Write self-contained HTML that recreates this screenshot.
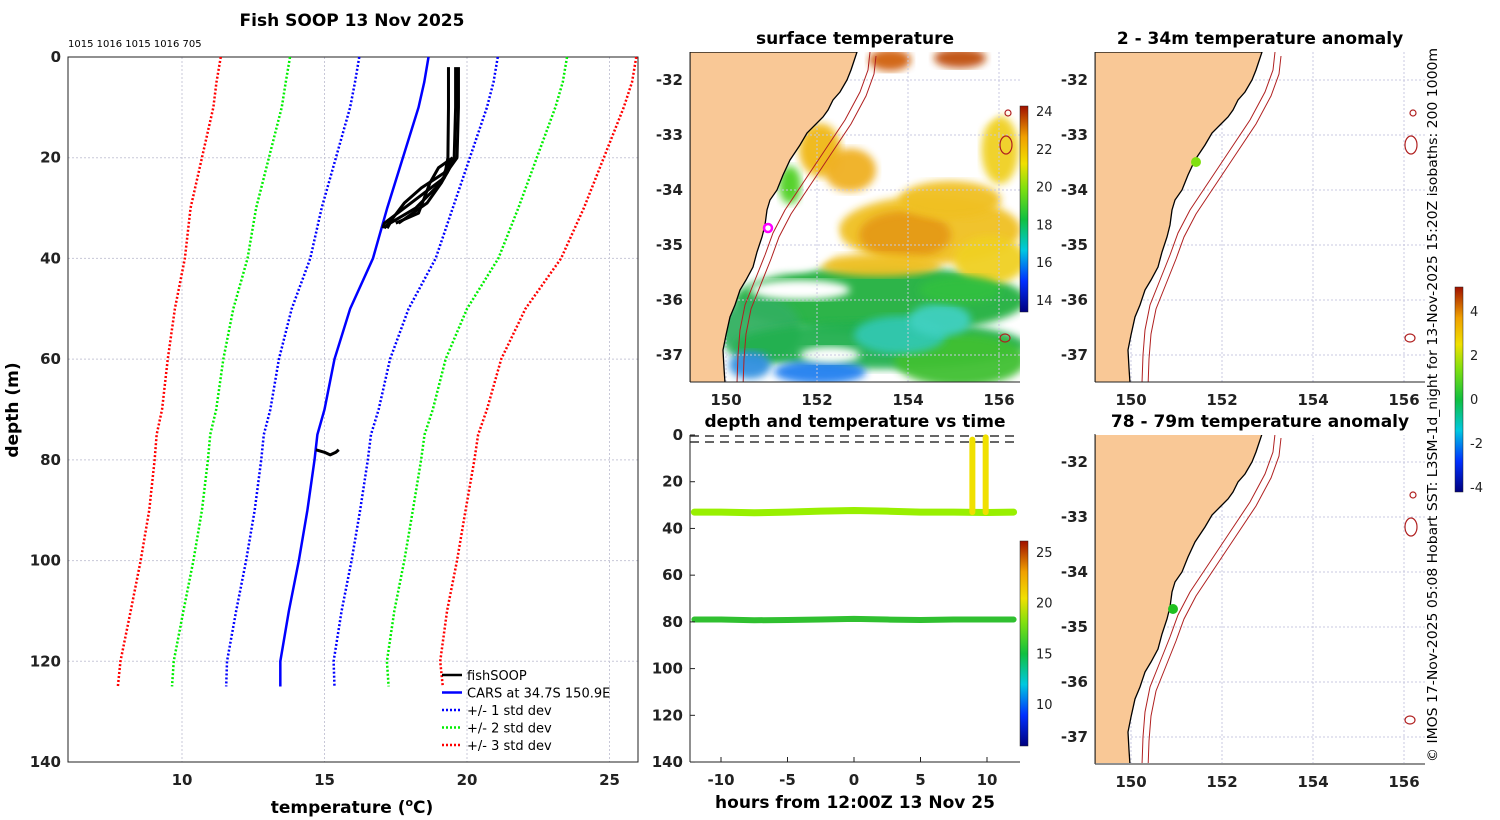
<!DOCTYPE html>
<html><head><meta charset="utf-8"><style>
body{margin:0;background:#fff;}
svg{display:block;font-family:"DejaVu Sans","Liberation Sans",sans-serif;}
.t{font-weight:bold;font-size:15px;fill:#222;}
.ti{font-weight:bold;font-size:17px;fill:#000;}
</style></head><body>
<svg id="fig" width="1500" height="820" viewBox="0 0 1500 820" xmlns="http://www.w3.org/2000/svg">
<defs>
<linearGradient id="jet" x1="0" y1="1" x2="0" y2="0">
<stop offset="0" stop-color="#00007f"/><stop offset="0.15" stop-color="#0030ff"/><stop offset="0.3" stop-color="#00c8e0"/><stop offset="0.45" stop-color="#10c040"/><stop offset="0.6" stop-color="#80e010"/><stop offset="0.72" stop-color="#f0e000"/><stop offset="0.85" stop-color="#f0a000"/><stop offset="1" stop-color="#a01000"/>
</linearGradient>
<filter id="bl"><feGaussianBlur stdDeviation="4"/></filter>
<clipPath id="cm"><rect x="690" y="52" width="330" height="330"/></clipPath>
<clipPath id="cr1"><rect x="1095" y="52" width="330" height="330"/></clipPath>
<clipPath id="cr2"><rect x="1095" y="435" width="330" height="328"/></clipPath>
</defs>
<g id="left"></g>
<g id="mid"></g>
<g id="ts"></g>
<g id="r1"></g>
<g id="r2"></g>
</svg>
<script>
// ---- profile data ----
const depths=[0,5,10,20,30,40,50,60,70,75,80,90,100,110,120,125];
const caresMean=[18.65,18.5,18.3,17.75,17.2,16.7,15.9,15.35,15.0,14.75,14.65,14.4,14.1,13.75,13.45,13.45];
const caresSd=[2.43,2.43,2.4,2.35,2.3,2.2,2.05,1.95,1.9,1.88,1.87,1.85,1.85,1.85,1.87,1.9];
const fishDepths=[[2,10,20,24,27,30,33,34],[2,10,20,23,26,30,33,34],[2,10,20,22,25,29,33],[20,23,26,29,32,34],[20,22,25,28,31,33],[78,78.5,79,78.5,78]];
const fishTemps=[[19.35,19.35,19.33,19.2,18.5,17.8,17.1,17.05],[19.6,19.6,19.55,19.3,18.9,18.2,17.3,17.2],[19.7,19.7,19.65,19.4,19.1,18.6,17.6],[19.5,19.2,18.4,17.8,17.4,17.1],[19.5,19.0,18.7,18.5,18.3,17.5],[14.7,15.0,15.2,15.4,15.5]];
const xTicks=[10,15,20,25];
const yTicks=[0,20,40,60,80,100,120,140];
// ---- time series data ----
const tsHours1=[-12,-10,-7.5,-5,-2.5,0,2.5,5,7.5,10,12];
const tsDepth1=[33,33,33.3,33,32.6,32.3,32.6,33,33,33.2,33];
const tsHours2=[-12,-10,-7.5,-5,-2.5,0,2.5,5,7.5,10,12];
const tsDepth2=[79,79,79.3,79.2,79,78.7,79,79.2,79,79,79];
const tsTemp1=19;const tsTemp2=16.5;
const spikeHours=[8.9,9.9];
const spikeTop=[2,1];const spikeBottom=[33,33];
const hTicks=[-10,-5,0,5,10];
const dTicks=[0,20,40,60,80,100,120,140];
const NS='http://www.w3.org/2000/svg';
function el(p,t,a,txt){const e=document.createElementNS(NS,t);for(const k in a)e.setAttribute(k,a[k]);if(txt!==undefined)e.textContent=txt;p.appendChild(e);return e;}
// ---------- LEFT ----------
const L=document.getElementById('left');
const X=t=>182+(t-10)*28.5, Y=d=>57+d*705/140;
xTicks.forEach(t=>{const g=el(L,'line',{x1:X(t),x2:X(t),y1:57,y2:762,stroke:'#c8c8d8','stroke-dasharray':'2,2'});
 const tx=el(L,'text',{x:X(t),y:785,'text-anchor':'middle',class:'t'},t);});
yTicks.forEach(d=>{const g=el(L,'line',{x1:68,x2:638,y1:Y(d),y2:Y(d),stroke:'#c8c8d8','stroke-dasharray':'2,2'});
 const tx=el(L,'text',{x:61,y:Y(d)+5,'text-anchor':'end',class:'t'},d);});
el(L,'rect',{x:68,y:57,width:570,height:705,fill:'none',stroke:'#222'});
const cols=['#0000ff','#00ee00','#ff0000'];
[1,2,3].forEach(k=>{[-1,1].forEach(s=>{const pts=depths.map((d,i)=>X(caresMean[i]+s*k*caresSd[i])+','+Y(d)).join(' ');
 const p=el(L,'polyline',{points:pts,fill:'none',stroke:cols[k-1],'stroke-width':2.5,'stroke-dasharray':'2,2'});});});
const mp=el(L,'polyline',{points:depths.map((d,i)=>X(caresMean[i])+','+Y(d)).join(' '),fill:'none',stroke:'#0000ff','stroke-width':2.5});

fishDepths.forEach((ds,j)=>{const p=el(L,'polyline',{points:ds.map((d,i)=>X(fishTemps[j][i])+','+Y(d)).join(' '),fill:'none',stroke:'#000','stroke-width':3,'stroke-linejoin':'round'});
 });
let e;
e=el(L,'text',{x:352,y:26,'text-anchor':'middle',class:'ti'},'Fish SOOP 13 Nov 2025');
e=el(L,'text',{x:68,y:47,'font-size':'10px',fill:'#000'},'1015 1016 1015 1016 705');
e=el(L,'text',{x:18,y:410,'text-anchor':'middle',class:'ti',transform:'rotate(-90 18 410)'},'depth (m)');
e=el(L,'text',{x:352,y:813,'text-anchor':'middle',class:'ti'});e.innerHTML='temperature (<tspan dy="-7" font-size="11">o</tspan><tspan dy="7">C)</tspan>';
const leg=[['fishSOOP','#000',''],['CARS at 34.7S 150.9E','#0000ff',''],['+/- 1 std dev','#0000ff','2,2'],['+/- 2 std dev','#00ee00','2,2'],['+/- 3 std dev','#ff0000','2,2']];
leg.forEach((l,i)=>{const y=675+i*17.5;el(L,'line',{x1:442,x2:462,y1:y,y2:y,stroke:l[1],'stroke-width':2.5,'stroke-dasharray':l[2]||'none'});
 const t=el(L,'text',{x:467,y:y+5,'font-size':'13px',fill:'#000'},l[0]);});
// ---------- MAPS ----------
const coast=[[857,52],[851,70],[847,80],[840,92],[833,100],[828,110],[823,117],[815,125],[807,133],[800,145],[790,160],[783,175],[777,190],[770,200],[767,210],[765,225],[762,237],[757,252],[753,267],[746,280],[740,290],[735,305],[730,317],[726,335],[723,350],[724,368],[725,383]];
const iso1=[[870,52],[868,70],[860,92],[845,120],[825,150],[805,180],[785,210],[773,233],[765,255],[755,280],[745,305],[740,330],[738,355],[737,383]];
function mapPanel(G,ox,oy,clip,anom){
 const g=el(G,'g',{'clip-path':'url(#'+clip+')'});
 el(g,'rect',{x:690+ox,y:52+oy,width:330,height:330,fill:'#fff'});
 if(!anom){
  const blobs=[
   [880,300,280,60,'#20b040'],[760,330,70,60,'#30b060'],[880,345,280,40,'#20b050'],[960,360,120,45,'#40c030'],
   [900,335,80,30,'#30c8b0'],[940,320,50,25,'#40d0c0'],[820,372,80,16,'#2080f0'],[750,365,30,20,'#3090e0'],
   [930,230,170,60,'#f0c020'],[905,235,80,40,'#e59a18'],[950,200,90,30,'#f0c020'],[990,260,60,40,'#f0d020'],
   [880,265,110,15,'#f0c020'],[820,150,30,45,'#f0b818'],[790,185,10,30,'#50d020'],[850,170,40,35,'#f0b020'],
   [890,60,30,14,'#d06010'],[960,58,40,12,'#c05010'],[1000,150,25,60,'#f0d020'],[960,290,70,20,'#30c040']];
  blobs.forEach(b=>{el(g,'ellipse',{cx:b[0],cy:b[1],rx:b[2]/2+6,ry:b[3]/2+4,fill:b[4],filter:'url(#bl)',opacity:0.95});});
  el(g,'ellipse',{cx:800,cy:240,rx:35,ry:30,fill:'#fff',filter:'url(#bl)'});
  el(g,'ellipse',{cx:930,cy:105,rx:70,ry:25,fill:'#fff',filter:'url(#bl)'});
  el(g,'ellipse',{cx:800,cy:290,rx:50,ry:10,fill:'#fff',filter:'url(#bl)'});
  el(g,'ellipse',{cx:830,cy:355,rx:30,ry:8,fill:'#fff',filter:'url(#bl)'});
 }
 const gx=[150,152,154,156].map(v=>726+(v-150)*45.5+ox);
 gx.forEach(x=>el(g,'line',{x1:x,x2:x,y1:52+oy,y2:382+oy,stroke:'#c8c8e0','stroke-dasharray':'2,2'}));
 [-32,-33,-34,-35,-36,-37].forEach(v=>{const y=80+(-32-v)*55+oy;el(g,'line',{x1:690+ox,x2:1020+ox,y1:y,y2:y,stroke:'#c8c8e0','stroke-dasharray':'2,2'});});
 const land=[[690,52],...coast,[690,383]].map(p=>(p[0]+ox)+','+(p[1]+oy)).join(' ');
 el(g,'polygon',{points:land,fill:'#f9c896',stroke:'#000','stroke-width':1.3});
 [0,6].forEach(o=>el(g,'polyline',{points:iso1.map(p=>(p[0]+ox+o)+','+(p[1]+oy+(o?4:0))).join(' '),fill:'none',stroke:'#b02020','stroke-width':1}));
 [[1006,145,6,9],[1008,113,3,3],[1005,338,5,4]].forEach(c=>el(g,'ellipse',{cx:c[0]+ox,cy:c[1]+oy,rx:c[2],ry:c[3],fill:'none',stroke:'#b02020','stroke-width':1.2}));
 el(G,'line',{x1:690+ox,x2:1020+ox,y1:382+oy,y2:382+oy,stroke:'#222'});
 el(G,'line',{x1:690+ox,x2:690+ox,y1:52+oy,y2:382+oy,stroke:'#222'});
 gx.forEach((x,i)=>{const t=el(G,'text',{x:x,y:405+oy,'text-anchor':'middle',class:'t'},[150,152,154,156][i]);});
 [-32,-33,-34,-35,-36,-37].forEach(v=>{const t=el(G,'text',{x:683+ox,y:85+(-32-v)*55+oy,'text-anchor':'end',class:'t'},v);});
}
const M=document.getElementById('mid');
mapPanel(M,0,0,'cm',false);
el(M,'circle',{cx:768,cy:228,r:4,fill:'none',stroke:'#ff00ff','stroke-width':2.5});
e=el(M,'text',{x:855,y:44,'text-anchor':'middle',class:'ti'},'surface temperature');
el(M,'rect',{x:1020,y:106,width:8,height:206,fill:'url(#jet)',stroke:'#222','stroke-width':0.5});
[14,16,18,20,22,24].forEach(v=>{const y=300-(v-14)*18.9;const t=el(M,'text',{x:1036,y:y+5,'font-size':'13px',fill:'#222'},v);});
const R1=document.getElementById('r1');mapPanel(R1,405,0,'cr1',true);
el(R1,'circle',{cx:1196,cy:162,r:5,fill:'#80e010'});
e=el(R1,'text',{x:1260,y:44,'text-anchor':'middle',class:'ti'},'2 - 34m temperature anomaly');
const R2=document.getElementById('r2');mapPanel(R2,405,382,'cr2',true);
el(R2,'circle',{cx:1173,cy:609,r:5,fill:'#20c020'});
e=el(R2,'text',{x:1260,y:427,'text-anchor':'middle',class:'ti'},'78 - 79m temperature anomaly');
el(R2,'rect',{x:1455,y:287,width:8,height:205,fill:'url(#jet)',stroke:'#222','stroke-width':0.5});
[4,2,0,-2,-4].forEach(v=>{const y=399-v*22;const t=el(R2,'text',{x:1470,y:y+5,'font-size':'13px',fill:'#222'},v);});
e=el(R2,'text',{x:1437,y:405,'text-anchor':'middle','font-size':'13px',fill:'#000',textLength:714,lengthAdjust:'spacingAndGlyphs',transform:'rotate(-90 1437 405)'},'© IMOS 17-Nov-2025 05:08 Hobart SST: L3SM-1d_night for 13-Nov-2025 15:20Z isobaths: 200  1000m');
// ---------- TIME SERIES ----------
const T=document.getElementById('ts');
const HX=h=>854+h*13.3, DY=d=>435+d*2.336;
e=el(T,'text',{x:855,y:427,'text-anchor':'middle',class:'ti'},'depth and temperature vs time');
el(T,'line',{x1:690,x2:1020,y1:436,y2:436,stroke:'#333','stroke-width':1.5,'stroke-dasharray':'9,6'});
el(T,'line',{x1:690,x2:1020,y1:442,y2:442,stroke:'#333','stroke-width':1.5,'stroke-dasharray':'9,6'});
e=el(T,'polyline',{points:tsHours1.map((h,i)=>HX(h)+','+DY(tsDepth1[i])).join(' '),fill:'none',stroke:tsTemp1>18?'#98f000':'#40c040','stroke-width':7,'stroke-linecap':'round'});
e=el(T,'polyline',{points:tsHours2.map((h,i)=>HX(h)+','+DY(tsDepth2[i])).join(' '),fill:'none',stroke:tsTemp2>18?'#98f000':'#30c030','stroke-width':6,'stroke-linecap':'round'});
spikeHours.forEach((h,i)=>{const s=el(T,'line',{x1:HX(h),x2:HX(h),y1:DY(spikeTop[i]),y2:DY(spikeBottom[i]),stroke:'#f0e000','stroke-width':6,'stroke-linecap':'round'});});
el(T,'line',{x1:690,x2:1020,y1:762,y2:762,stroke:'#222'});
el(T,'line',{x1:690,x2:690,y1:435,y2:762,stroke:'#222'});
hTicks.forEach(h=>{el(T,'line',{x1:HX(h),x2:HX(h),y1:762,y2:757,stroke:'#222'});const t=el(T,'text',{x:HX(h),y:785,'text-anchor':'middle',class:'t'},h);});
dTicks.forEach(d=>{el(T,'line',{x1:690,x2:695,y1:DY(d),y2:DY(d),stroke:'#222'});const t=el(T,'text',{x:683,y:DY(d)+5,'text-anchor':'end',class:'t'},d);});
e=el(T,'text',{x:855,y:808,'text-anchor':'middle',class:'ti'},'hours from 12:00Z 13 Nov 25');
el(T,'rect',{x:1020,y:541,width:8,height:205,fill:'url(#jet)',stroke:'#222','stroke-width':0.5});
[10,15,20,25].forEach(v=>{const y=704-(v-10)*10.13;const t=el(T,'text',{x:1036,y:y+5,'font-size':'13px',fill:'#222'},v);});
</script>
</body></html>
